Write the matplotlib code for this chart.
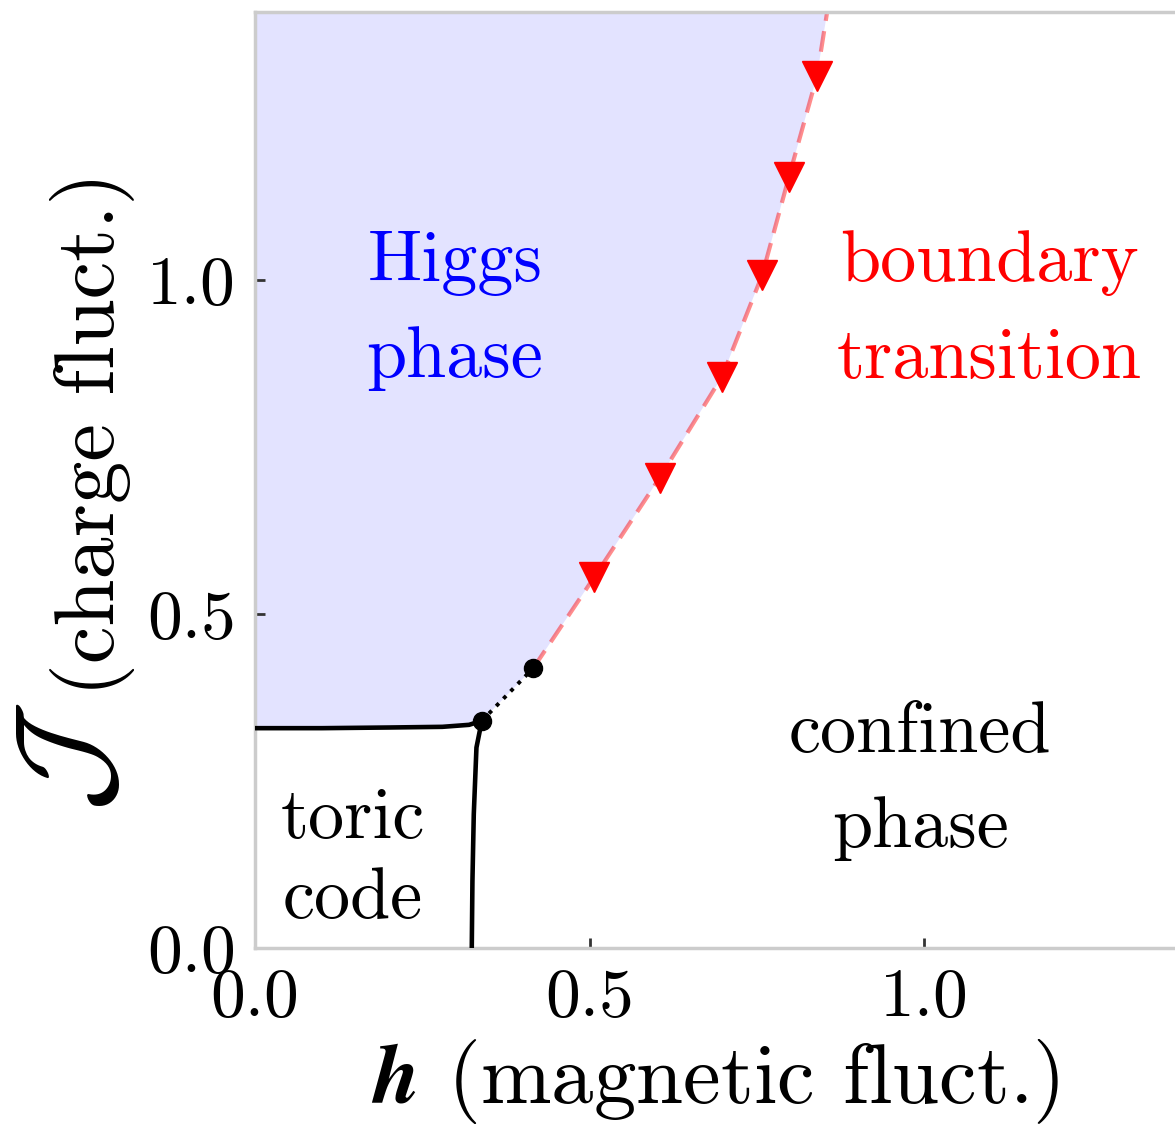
import numpy as np
import matplotlib
matplotlib.use("Agg")
import matplotlib.pyplot as plt

plt.rcParams['font.family'] = 'serif'
plt.rcParams['font.serif'] = ['cmr10']
plt.rcParams['mathtext.fontset'] = 'cm'
plt.rcParams['axes.unicode_minus'] = False
plt.rcParams['axes.formatter.use_mathtext'] = True

# toric code / Higgs boundary (solid, horizontal)
h_top = [0.0, 0.10, 0.20, 0.28, 0.32, 0.339]
J_top = [0.329, 0.329, 0.330, 0.331, 0.334, 0.340]
# toric code / confined boundary (solid, vertical)
h_side = [0.324, 0.325, 0.327, 0.331, 0.339]
J_side = [0.0, 0.10, 0.20, 0.30, 0.340]
# end points of the dotted segment
h_dots = [0.339, 0.416]
J_dots = [0.340, 0.419]
# boundary transition (dashed) and measured points
h_bnd = [0.416, 0.507, 0.605, 0.698, 0.758, 0.798, 0.840, 0.855]
J_bnd = [0.419, 0.555, 0.704, 0.855, 1.007, 1.154, 1.305, 1.40]
h_tri = [0.507, 0.605, 0.698, 0.758, 0.798, 0.840]
J_tri = [0.555, 0.704, 0.855, 1.007, 1.154, 1.305]

fig = plt.figure(figsize=(11.75, 11.34), dpi=100)
ax = fig.add_axes([0.217, 0.164, 0.783, 0.825])

# Higgs region
poly_h = h_top + h_bnd + [0.0]
poly_J = J_top + J_bnd + [1.40]
ax.fill(poly_h, poly_J, color='blue', alpha=0.11, lw=0, zorder=0)

ax.plot(h_top, J_top, color='black', lw=3.3, zorder=3)
ax.plot(h_side, J_side, color='black', lw=3.3, zorder=3)
ax.plot(h_dots, J_dots, color='black', lw=2.8, ls=':', zorder=3)
ax.plot(h_dots, J_dots, 'o', color='black', ms=13, zorder=4)
ax.plot(h_bnd, J_bnd, color='red', alpha=0.45, lw=3, ls=(0, (5, 2.5)), zorder=2)
ax.plot(h_tri, J_tri, 'v', color='red', ms=21, zorder=4)

fs = 52
ax.text(0.299, 0.953, 'Higgs\nphase', color='blue', fontsize=fs, ha='center', va='center', linespacing=1.6)
ax.text(1.097, 0.953, 'boundary\ntransition', color='red', fontsize=fs, ha='center', va='center', linespacing=1.6)
ax.text(0.994, 0.250, 'confined\nphase', color='black', fontsize=fs, ha='center', va='center', linespacing=1.6)
ax.text(0.146, 0.133, 'toric\ncode', color='black', fontsize=fs, ha='center', va='center', linespacing=1.3)

ax.set_xlim(0, 1.375)
ax.set_ylim(0, 1.40)
ax.set_xticks([0.0, 0.5, 1.0])
ax.set_yticks([0.0, 0.5, 1.0])
ax.set_xticklabels(['0.0', '0.5', '1.0'])
ax.set_yticklabels(['0.0', '0.5', '1.0'])
ax.tick_params(direction='in', length=7, width=2, colors='#333333', labelcolor='black', labelsize=50, pad=14)

for s in ['left', 'bottom', 'top']:
    ax.spines[s].set_color('#cccccc')
    ax.spines[s].set_linewidth(2.5)
ax.spines['right'].set_visible(False)

ax.set_xlabel(r'$\boldsymbol{h}$ (magnetic fluct.)', fontsize=61, labelpad=6)
ax.set_ylabel('(charge fluct.)', fontsize=61)
ax.yaxis.set_label_coords(-0.13, 0.55)
ax.text(-0.197, 0.204, r'$\mathcal{J}$', fontsize=92, rotation=90,
        ha='center', va='center', transform=ax.transAxes)

fig.savefig('out.png', dpi=100)
